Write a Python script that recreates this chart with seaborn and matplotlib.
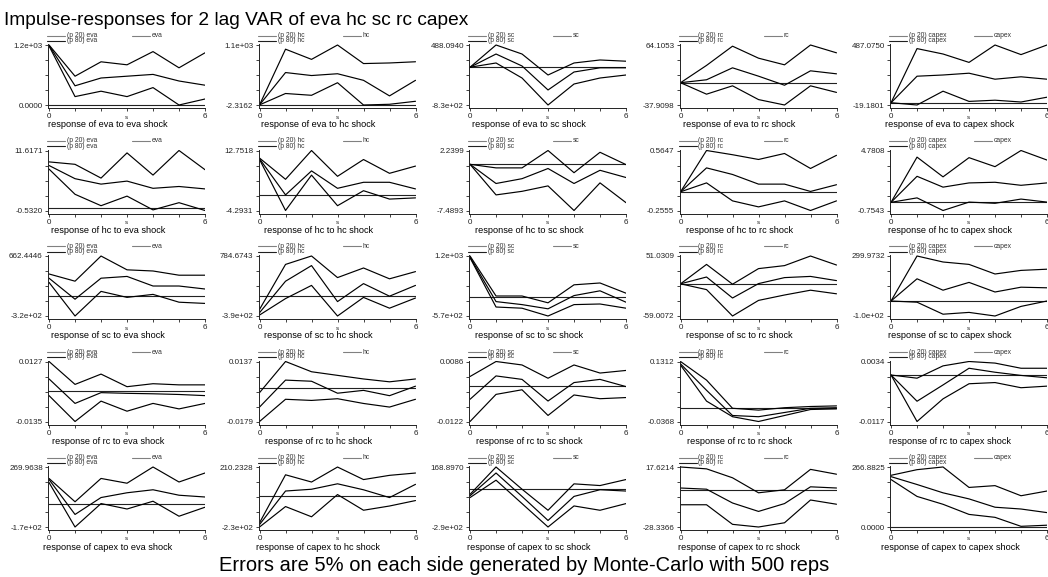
import matplotlib
matplotlib.use("Agg")
import matplotlib.pyplot as plt
from matplotlib.lines import Line2D
import numpy as np
import pandas as pd
import seaborn as sns

# ---------------- data ----------------
variables = ["eva", "hc", "sc", "rc", "capex"]
steps = [0, 1, 2, 3, 4, 5, 6]

# response of eva to [eva, hc, sc, rc, capex] shock
eva_p80 = [[1200, 576, 864, 804, 1068, 744, 1044],
           [0, 1023, 836, 1100, 759, 770, 792],
           [0, 488.1, 290, -171, 93, 159, 132],
           [0, 29.4, 62.1, 41.7, 30.4, 64.1, 50.8],
           [0, 456.7, 411.1, 340.3, 487.1, 406.1, 487.1]]
eva_irf = [[1192, 384, 540, 576, 612, 480, 396],
           [0, 594, 539, 572, 451, 165, 451],
           [0, 290, 27, -500, -105, -13, -13],
           [0, 5.0, 25.3, 11.1, -4.3, 20.2, 15.1],
           [0, 223.8, 234.0, 249.1, 198.5, 218.8, 198.5]]
eva_p20 = [[1180, 168, 276, 168, 348, 0, 120],
           [0, 209, 176, 407, -2.3, 11, 66],
           [0, 93, -237, -830, -369, -237, -171],
           [0, -19.5, -5.3, -28.7, -37.9, -5.3, -16.5],
           [0, -19.2, 97.3, 11.2, 21.3, 6.1, 46.6]]
eva_ylim = [(0, 1200), (-2.3162, 1100), (-830, 488.094), (-37.9098, 64.1053), (-19.1801, 487.075)]
eva_ylab = [("0.0000", "1.2e+03"), ("-2.3162", "1.1e+03"), ("-8.3e+02", "488.0940"),
            ("-37.9098", "64.1053"), ("-19.1801", "487.0750")]

# response of hc
hc_p80 = [[9.31, 8.82, 6.03, 11.13, 6.64, 11.62, 7.73],
          [10.6, 4.57, 12.75, 5.42, 10.19, 6.27, 8.32],
          [0, -0.58, -0.58, 2.24, -1.36, 1.95, -0.05],
          [0, 0.5647, 0.507, 0.442, 0.524, 0.319, 0.499],
          [0, 4.17, 2.35, 4.12, 3.29, 4.78, 3.90]]
hc_irf = [[8.58, 5.91, 4.81, 5.42, 3.96, 4.33, 3.84],
          [10.4, 0.14, 6.96, 2.01, 3.72, 3.72, 1.84],
          [0, -3.11, -2.33, -0.68, -3.11, -0.97, -2.14],
          [0, 0.327, 0.237, 0.105, 0.105, 0.005, 0.097],
          [0, 2.40, 1.40, 1.79, 1.85, 1.57, 1.79]]
hc_p20 = [[7.85, 2.75, 0.44, 2.38, -0.41, 1.05, -0.53],
          [10.2, -4.29, 5.76, -2.93, 1.33, -1.05, -0.71],
          [0, -4.96, -4.38, -3.50, -7.49, -3.01, -6.22],
          [0, 0.122, -0.124, -0.206, -0.124, -0.2555, -0.124],
          [0, 0.41, -0.754, 0.02, -0.09, 0.30, 0.02]]
hc_ylim = [(-0.5320, 11.6171), (-4.2931, 12.7518), (-7.4893, 2.2399), (-0.2555, 0.5647), (-0.7543, 4.7808)]
hc_ylab = [("-0.5320", "11.6171"), ("-4.2931", "12.7518"), ("-7.4893", "2.2399"),
           ("-0.2555", "0.5647"), ("-0.7543", "4.7808")]

# response of sc
sc_p80 = [[368, 250, 662, 436, 417, 348, 348],
          [-261, 620, 785, 362, 550, 338, 479],
          [1200, 20, 20, -181, 350, 404, 103],
          [0, 35.6, -0.7, 27.9, 33.4, 51.0, 34.5],
          [0, 300, 260, 244, 180, 204, 212]]
sc_irf = [[299, -45, 299, 328, 171, 171, 122],
          [-325, 291, 597, -108, 244, -2, 209],
          [1165, -145, -234, -358, 32, 173, -163],
          [0, 12.5, -26.0, 0.4, 11.4, 13.6, 5.9],
          [0, 148, 72, 124, 60, 92, 88]]
sc_p20 = [[230, -320, 83, -15, 34, -94, -114],
          [-371, -49, 209, -390, -26, -237, -38],
          [1147, -305, -340, -570, -234, -216, -340],
          [0, -10.6, -59.0, -30.4, -20.5, -11.7, -18.3],
          [0, -8, -88, -76, -100, -36, 0]]
sc_ylim = [(-320, 662.4446), (-390, 784.6743), (-570, 1200), (-59.0072, 51.0309), (-100, 299.9732)]
sc_ylab = [("-3.2e+02", "662.4446"), ("-3.9e+02", "784.6743"), ("-5.7e+02", "1.2e+03"),
           ("-59.0072", "51.0309"), ("-1.0e+02", "299.9732")]

# response of rc
rc_p80 = [[0.0127, 0.0027, 0.0072, 0.0017, 0.0030, 0.0025, 0.0025],
          [-0.0027, 0.0137, 0.0083, 0.0064, 0.0045, 0.0030, 0.0045],
          [0.0034, 0.0086, 0.0074, 0.0028, 0.0074, 0.0046, 0.0055],
          [0.1312, 0.0791, 0.0002, -0.0049, 0.0018, 0.0052, 0.0069],
          [0, -0.0008, 0.0023, 0.0034, 0.0030, 0.0017, 0.0017]]
rc_irf = [[0.0051, -0.0056, -0.0009, -0.0012, -0.0014, -0.0017, -0.0022],
          [-0.0103, 0.0039, 0.0033, -0.0030, -0.0015, -0.0043, 0.0007],
          [-0.0045, 0.0036, 0.0024, -0.0051, 0.0013, 0.0024, -0.0001],
          [0.1245, 0.0506, -0.0200, -0.0234, -0.0116, 0.0002, 0.0018],
          [0, -0.0066, -0.0025, 0.0017, 0.0007, -0.0001, -0.0007]]
rc_p20 = [[-0.0022, -0.0135, -0.0046, -0.0090, -0.0056, -0.0080, -0.0056],
          [-0.0179, -0.0062, -0.0068, -0.0059, -0.0084, -0.0103, -0.0062],
          [-0.0122, -0.0028, -0.0012, -0.0101, -0.0030, -0.0043, -0.0039],
          [0.1211, 0.0203, -0.0234, -0.0368, -0.0200, -0.0032, -0.0015],
          [0, -0.0117, -0.0060, -0.0022, -0.0019, -0.0032, -0.0028]]
rc_ylim = [(-0.0135, 0.0127), (-0.0179, 0.0137), (-0.0122, 0.0086), (-0.0368, 0.1312), (-0.0117, 0.0034)]
rc_ylab = [("-0.0135", "0.0127"), ("-0.0179", "0.0137"), ("-0.0122", "0.0086"),
           ("-0.0368", "0.1312"), ("-0.0117", "0.0034")]

# response of capex
capex_p80 = [[186, 15, 186, 151, 270, 160, 226],
             [-199, 153, 100, 210, 118, 149, 166],
             [-40, 169, -1, -162, 40, 27, 73],
             [17.62, 16.2, 9.35, -2.14, 0.16, 15.8, 12.1],
             [230, 255, 267, 176, 184, 139, 160]]
capex_irf = [[178, -78, 46, 81, 103, 63, 50],
             [-212, 34, 47, 87, 43, -14, 83],
             [-51, 123, -56, -240, -56, -5, -15],
             [1.53, 0.62, -9.95, -16.4, -10.4, 2.45, 1.53],
             [224, 189, 152, 125, 88, 80, 64]]
capex_p20 = [[156, -170, 2, -38, 19, -91, -25],
             [-230, -80, -155, 8, -107, -76, -36],
             [-65, 68, -111, -290, -129, -162, -111],
             [-11.3, -11.3, -26.3, -28.34, -25.1, -7.66, -10.9],
             [211, 136, 101, 56, 43, 3, 8]]
capex_ylim = [(-170, 269.9638), (-230, 210.2328), (-290, 168.897), (-28.3366, 17.6214), (0, 266.8825)]
capex_ylab = [("-1.7e+02", "269.9638"), ("-2.3e+02", "210.2328"), ("-2.9e+02", "168.8970"),
              ("-28.3366", "17.6214"), ("0.0000", "266.8825")]

title = "Impulse-responses for 2 lag VAR of eva hc sc rc capex"
caption = "Errors are 5% on each side generated by Monte-Carlo with 500 reps"

rows = {
    "eva": (eva_p20, eva_irf, eva_p80, eva_ylim, eva_ylab),
    "hc": (hc_p20, hc_irf, hc_p80, hc_ylim, hc_ylab),
    "sc": (sc_p20, sc_irf, sc_p80, sc_ylim, sc_ylab),
    "rc": (rc_p20, rc_irf, rc_p80, rc_ylim, rc_ylab),
    "capex": (capex_p20, capex_irf, capex_p80, capex_ylim, capex_ylab),
}

# ---------------- style ----------------
sns.set_style("ticks")
plt.rcParams["font.family"] = ["Liberation Sans", "DejaVu Sans"]

W, H = 1048, 577
fig = plt.figure(figsize=(W / 100, H / 100), dpi=100)
fig.patch.set_facecolor("white")


def fx(x):
    return x / W


def fy(y):
    return 1 - y / H


COL_L0, COL_P = 48, 210.5
ROW_T0, ROW_P = 45, 105.5
PW, PH = 157, 60

for r, resp in enumerate(variables):
    p20, irf, p80, ylims, ylabs = rows[resp]
    for c, imp in enumerate(variables):
        L = COL_L0 + COL_P * c
        T = ROW_T0 + ROW_P * r
        ax = fig.add_axes([fx(L), fy(T + PH + 3), fx(PW), (PH + 4) / H])
        ymin, ymax = ylims[c]
        rng = ymax - ymin
        df = pd.DataFrame({
            "step": steps * 3,
            "value": p20[c] + irf[c] + p80[c],
            "band": ["p20"] * 7 + ["irf"] * 7 + ["p80"] * 7,
        })
        ax.axhline(0, color="#222222", lw=0.8, zorder=1)
        sns.lineplot(data=df, x="step", y="value", units="band", estimator=None,
                     color="black", linewidth=0.85, ax=ax, legend=False)
        ax.set_ylim(ymin - rng * 3 / PH, ymax + rng * 1 / PH)
        ax.set_xlim(-0.04, 6.0)
        yt = np.linspace(ymin, ymax, 5)
        ax.set_yticks(yt)
        ax.set_yticklabels([ylabs[c][0], "", "", "", ylabs[c][1]])
        ax.set_xticks(steps)
        ax.set_xticklabels(["0", "", "", "", "", "", "6"])
        ax.tick_params(axis="both", length=2.5, width=0.6, color="#222222",
                       labelsize=5.8, pad=1.2, labelcolor="#222222")
        ax.set_xlabel("")
        ax.set_ylabel("")
        for s in ["top", "right"]:
            ax.spines[s].set_visible(False)
        for s in ["left", "bottom"]:
            ax.spines[s].set_linewidth(0.7)
            ax.spines[s].set_color("#222222")
        ax.set_facecolor("white")

        fig.text(fx(L + PW / 2), fy(117 + ROW_P * r), "s", fontsize=4.5,
                 ha="center", va="center", color="#222222")
        fig.text(fx(105 + COL_P * c + 3), fy(125 + ROW_P * r),
                 f"response of {resp} to {imp} shock", fontsize=6.6,
                 ha="center", va="center", color="black")
        y1, y2 = T - 9.5, T - 4.5
        entries = [(L - 1, y1, f"(p 20) {imp}", "#808080"),
                   (L - 1, y2, f"(p 80) {imp}", "#202020"),
                   (L + 84, y1, f"{imp}", "#808080")]
        for x0, yy, lab, col in entries:
            fig.add_artist(Line2D([fx(x0), fx(x0 + 18)], [fy(yy), fy(yy)],
                                  color=col, lw=0.8, transform=fig.transFigure))
            fig.text(fx(x0 + 20), fy(yy), lab, fontsize=4.9, ha="left",
                     va="center", color="#333333")

fig.text(fx(4), fy(25), title, fontsize=13.8, ha="left", va="baseline", color="black")
fig.text(0.5, fy(571), caption, fontsize=14.5, ha="center", va="baseline", color="black")

fig.savefig("out.png", dpi=100, facecolor="white")
